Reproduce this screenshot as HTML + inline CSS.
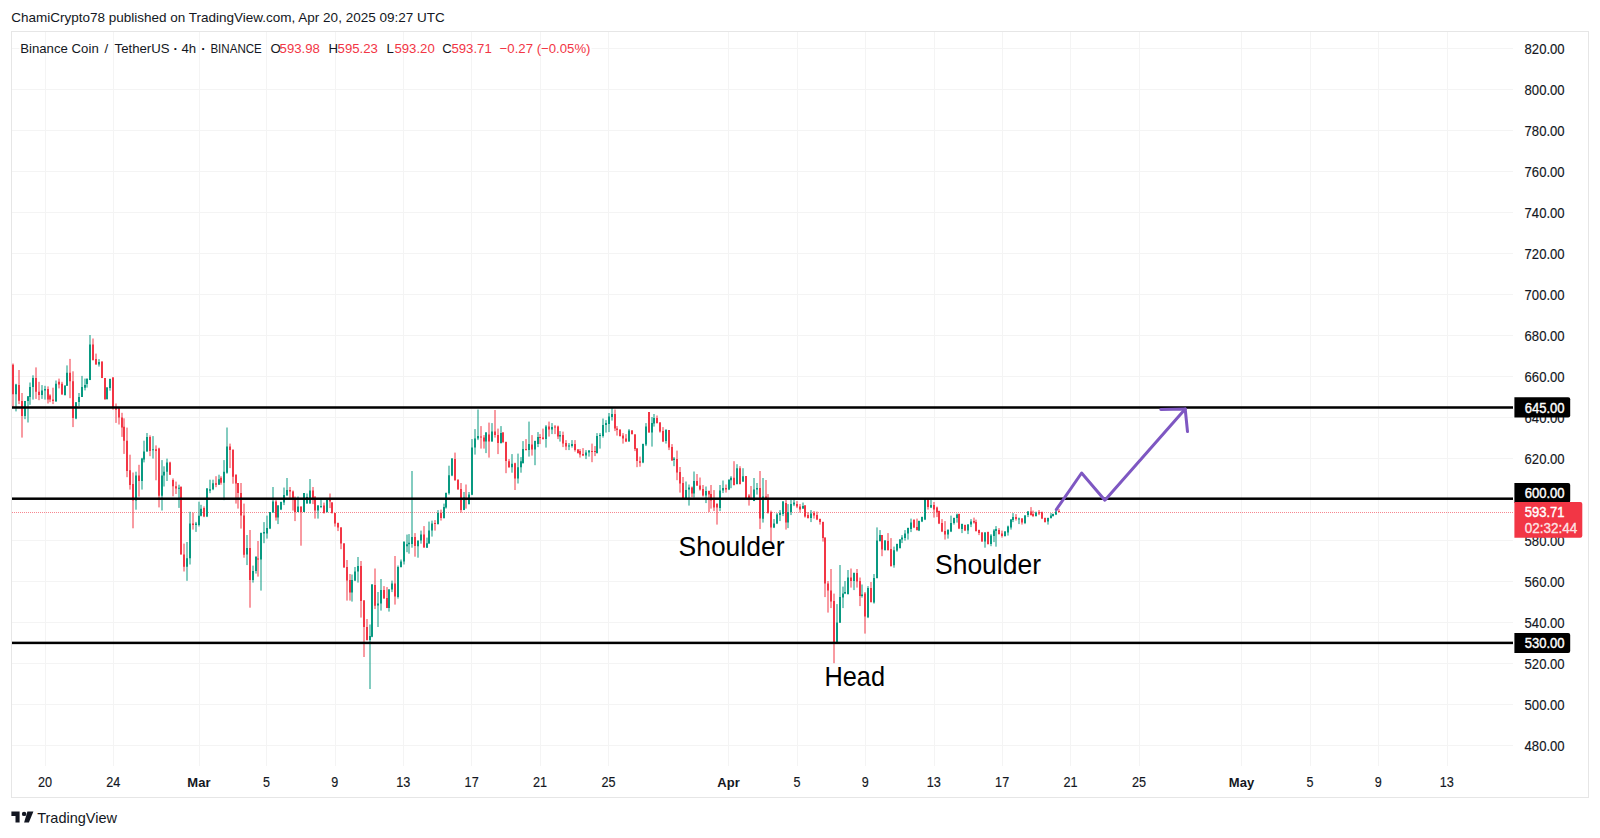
<!DOCTYPE html><html><head><meta charset="utf-8"><style>html,body{margin:0;padding:0;background:#fff;}body{width:1600px;height:838px;overflow:hidden;}svg{display:block;font-family:"Liberation Sans",sans-serif;}</style></head><body>
<svg width="1600" height="838" viewBox="0 0 1600 838">
<rect x="0" y="0" width="1600" height="838" fill="#ffffff"/>
<text x="11.2" y="21.8" font-size="13.5" fill="#131722">ChamiCrypto78 published on TradingView.com, Apr 20, 2025 09:27 UTC</text>
<rect x="11.5" y="31.5" width="1577" height="766" fill="#ffffff" stroke="#e6e6e6" stroke-width="1"/>
<path d="M12 745.5H1513 M12 704.5H1513 M12 663.5H1513 M12 622.5H1513 M12 581.5H1513 M12 540.5H1513 M12 499.5H1513 M12 458.5H1513 M12 417.5H1513 M12 376.5H1513 M12 335.5H1513 M12 294.5H1513 M12 253.5H1513 M12 212.5H1513 M12 171.5H1513 M12 130.5H1513 M12 89.5H1513 M12 48.5H1513" stroke="#f4f4f4" stroke-width="1" fill="none"/>
<rect x="19.5" y="45" width="572" height="7" fill="#ffffff"/>
<path d="M45.5 32V766 M113.5 32V766 M199.5 32V766 M266.5 32V766 M335.5 32V766 M403.5 32V766 M471.5 32V766 M540.5 32V766 M608.5 32V766 M728.5 32V766 M797.5 32V766 M865.5 32V766 M934.5 32V766 M1002.5 32V766 M1070.5 32V766 M1139.5 32V766 M1241.5 32V766 M1310.5 32V766 M1378.5 32V766 M1447.5 32V766" stroke="#f4f4f4" stroke-width="1" fill="none"/>

<g font-size="13.2" fill="#131722"><text x="20.2" y="53">Binance</text><text x="71.6" y="53">Coin</text><text x="104.6" y="53">/</text><text x="114.6" y="53">TetherUS</text><text x="173.6" y="53" font-weight="bold">·</text><text x="181.4" y="53">4h</text><text x="201.2" y="53" font-weight="bold">·</text><text x="210.4" y="53" textLength="51.4" lengthAdjust="spacingAndGlyphs">BINANCE</text><text x="270.4" y="53">O</text><text x="279.6" y="53" fill="#F23645">593.98</text><text x="328.4" y="53">H</text><text x="337.6" y="53" fill="#F23645">595.23</text><text x="386.4" y="53">L</text><text x="394.4" y="53" fill="#F23645">593.20</text><text x="442.2" y="53">C</text><text x="451.4" y="53" fill="#F23645">593.71</text><text x="499.6" y="53" fill="#F23645">−0.27 (−0.05%)</text></g>
<path d="M12 512.5H1513" stroke="#F23645" stroke-opacity="0.6" stroke-width="1" stroke-dasharray="1 1" fill="none"/>
<path d="M16 383.8V411.4M25 400.9V419.2M28 396.3V422.5M30 382.5V404.8M33 375.3V399.6M42 385.1V398.9M45 385.8V399.6M56 380.5V401.5M65 385.1V395.6M67 365.4V385.8M76 402.2V419.2M79 393.0V406.1M82 375.9V396.9M85 378.6V390.4M87 378.1V387.6M90 335.0V380.1M99 359.1V366.6M107 387.1V399.7M110 378.6V390.7M136 471.7V509.7M142 457.8V489.6M144 440.7V462.4M147 433.0V451.6M153 436.1V458.6M162 460.1V510.5M164 466.3V486.5M167 458.6V481.0M179 484.7V507.9M187 542.0V580.8M190 511.8V564.5M196 521.9V531.9M199 501.7V526.5M201 504.8V516.4M207 488.0V517.1M210 479.7V493.2M213 479.7V490.2M219 474.7V484.7M224 460.1V500.2M227 427.5V473.7M247 535.0V565.1M253 565.6V582.6M256 556.0V573.6M261 532.5V590.6M264 522.1V543.2M267 515.6V538.6M270 512.1V529.1M273 487.0V512.6M278 505.1V524.1M281 501.6V510.1M284 487.5V505.1M287 478.0V495.5M298 496.5V512.1M304 493.0V512.1M307 493.5V503.6M310 479.0V503.6M318 505.1V518.6M321 499.0V508.1M327 499.5V512.6M352 574.5V601.6M355 567.0V581.1M358 557.0V582.6M370 624.5V689.0M372 584.1V637.2M378 592.0V627.0M381 579.0V610.6M389 589.1V611.6M392 580.6V592.1M398 565.5V598.6M401 559.5V567.5M404 541.0V564.5M407 534.6V552.2M409 534.1V553.7M412 471.0V547.7M418 540.2V557.7M421 530.6V543.7M427 537.6V547.7M429 521.6V543.7M432 520.6V536.6M438 510.1V524.6M444 503.6V518.6M446 492.5V508.6M449 465.7V494.7M452 458.1V476.2M464 492.0V510.1M469 492.0V504.6M472 439.1V495.2M475 429.1V454.6M478 409.5V440.1M486 432.1V453.1M492 423.1V441.6M501 426.1V443.6M512 454.1V472.7M518 453.6V483.5M521 457.1V472.7M523 441.1V463.7M529 421.6V456.6M535 440.6V465.2M538 432.1V447.1M546 425.1V447.6M552 423.1V434.1M560 431.1V441.6M569 443.1V450.1M572 440.1V447.6M586 450.1V459.1M589 450.1V456.6M597 433.1V453.6M600 433.1V448.6M603 418.5V437.6M606 420.1V432.6M609 413.0V432.1M612 407.5V420.6M629 429.1V441.6M643 443.6V463.2M646 423.1V446.1M652 417.0V446.6M654 414.0V426.6M666 429.1V443.6M674 457.1V466.2M686 481.5V499.1M689 484.5V505.6M694 471.5V497.6M706 486.5V503.1M720 485.0V511.1M723 480.5V493.1M729 479.0V490.1M731 476.2V488.2M737 464.2V484.5M743 468.2V482.0M754 478.0V501.1M757 483.0V494.6M763 478.0V522.6M774 519.1V528.1M777 513.1V524.1M780 510.1V521.1M783 501.1V516.1M788 504.1V528.1M791 499.6V515.1M794 499.1V506.1M803 502.5V509.0M811 510.1V522.1M837 604.1V643.7M840 565.0V622.6M843 586.6V608.1M845 581.0V594.1M848 570.0V594.6M854 572.5V590.1M862 584.5V597.6M868 586.1V618.1M874 574.0V603.6M877 527.4V578.5M880 530.1V541.6M885 540.1V550.7M894 546.6V567.7M897 543.6V551.7M900 539.1V548.6M902 535.1V543.1M905 530.1V540.6M908 527.6V539.6M911 518.6V532.1M919 520.6V531.1M922 516.6V522.1M925 498.0V520.1M931 500.0V508.1M948 529.1V538.6M951 515.6V532.1M954 517.6V524.6M957 513.6V522.6M962 523.6V533.1M968 524.1V534.1M971 519.1V527.1M985 532.1V547.7M991 534.1V546.2M994 529.1V542.1M996 526.1V546.7M1005 531.1V536.6M1008 525.6V535.6M1011 519.1V529.6M1013 513.1V522.1M1019 517.6V524.1M1025 515.1V524.1M1028 511.1V517.1M1036 511.6V516.6M1048 517.6V524.6M1051 513.1V518.6M1053 513.6V516.6M1056 510.1V515.1" stroke="#089981" stroke-width="1" fill="none"/>
<path d="M13 363.5V407.4M19 370.0V404.1M22 393.0V437.6M36 367.4V398.9M39 381.8V400.2M48 386.4V403.5M50 394.3V402.2M53 387.7V404.1M59 378.6V388.4M62 381.8V395.0M70 358.9V398.2M73 371.3V427.1M93 338.5V360.6M96 353.6V364.6M102 361.6V378.1M105 378.1V399.7M113 377.1V409.7M116 403.5V422.9M119 407.4V424.5M122 412.8V436.9M124 418.3V453.9M127 427.6V477.2M130 454.7V489.6M133 472.5V528.3M139 464.8V496.6M150 435.3V456.2M156 445.4V480.3M159 447.7V507.4M170 461.7V474.8M173 478.4V496.3M176 481.6V494.0M181 486.2V554.4M184 543.6V571.5M193 512.6V529.6M204 506.4V517.2M216 476.2V487.2M221 476.2V484.7M230 443.6V468.1M233 449.1V483.7M236 474.0V503.6M238 483.0V508.6M241 483.0V528.6M244 503.6V557.7M250 530.0V607.7M258 541.0V576.6M276 500.1V520.6M290 487.0V499.0M293 490.5V510.6M295 496.5V521.1M301 506.6V545.7M313 487.0V504.1M315 496.0V518.6M324 502.6V513.6M330 493.5V508.1M332 502.1V513.6M335 513.1V526.6M338 522.6V531.1M341 527.1V549.2M344 543.0V567.6M347 560.0V600.6M350 574.0V600.6M361 561.0V617.6M364 600.0V657.0M367 619.0V640.5M375 568.5V609.1M384 586.1V598.6M387 587.1V608.1M395 556.0V604.6M415 533.1V556.7M424 526.1V547.7M435 520.1V530.6M441 509.6V520.6M455 452.6V480.7M458 479.0V489.5M461 483.0V512.6M466 484.5V508.6M481 426.1V448.6M484 435.1V448.6M489 422.6V457.6M495 410.0V437.6M498 428.6V454.1M503 432.1V443.1M506 441.6V473.2M509 459.1V467.7M515 462.7V490.0M526 439.1V450.6M532 435.1V455.6M540 434.1V444.1M543 428.6V439.6M549 421.6V436.6M555 425.1V434.1M558 425.6V439.1M563 431.6V447.1M566 440.1V450.1M575 440.1V451.6M578 449.1V453.6M580 449.1V457.6M583 448.1V456.1M592 443.6V462.2M595 446.1V456.1M615 409.5V431.1M617 426.1V435.6M620 429.6V436.6M623 433.1V443.6M626 434.1V442.1M632 430.1V434.6M635 434.1V451.1M637 448.1V467.2M640 456.6V466.7M649 412.0V432.6M657 415.5V423.6M660 422.1V432.6M663 427.1V442.1M669 430.1V450.1M672 444.1V460.7M677 450.6V480.2M680 467.0V492.6M683 477.0V499.6M692 486.5V497.1M697 474.0V486.0M700 477.5V490.6M703 485.0V496.6M709 490.6V512.1M711 485.0V508.6M714 490.1V511.1M717 503.1V524.6M726 484.5V492.6M734 461.2V485.5M740 466.2V484.5M746 476.0V498.6M749 494.1V505.6M751 486.0V499.6M760 471.0V529.1M766 480.0V499.6M768 494.1V513.6M771 510.6V543.2M786 500.1V529.6M797 501.1V508.1M800 504.0V512.6M805 505.0V517.6M808 512.1V518.6M814 511.1V518.6M817 511.6V520.1M820 518.6V524.6M823 521.6V541.6M825 537.6V597.1M828 581.0V612.6M831 569.0V608.1M834 593.6V663.2M851 568.5V587.6M857 569.0V587.6M860 577.5V606.1M865 592.0V633.6M871 582.0V602.6M882 535.1V556.2M888 533.1V550.7M891 538.1V566.7M914 519.1V528.1M917 518.6V530.6M928 499.0V509.6M934 502.0V517.6M937 506.6V517.1M939 510.6V524.1M942 519.1V532.1M945 521.1V539.6M959 513.6V529.1M965 524.6V531.1M974 517.6V523.6M976 519.6V531.6M979 529.6V535.1M982 532.1V541.6M988 531.6V544.6M999 528.1V534.6M1002 530.6V537.6M1016 514.1V520.6M1022 518.1V524.6M1031 507.1V515.6M1033 510.6V517.1M1039 510.1V515.1M1042 511.6V519.1M1045 517.6V522.6M1059 509.1V512.6" stroke="#F23645" stroke-width="1" fill="none"/>
<path d="M15 384.5h2v9.8h-2zM24 400.9h2v15.1h-2zM27 396.3h2v4.6h-2zM29 387.1h2v9.8h-2zM32 377.9h2v9.2h-2zM41 390.4h2v4.6h-2zM44 389.1h2v1.3h-2zM55 383.8h2v17.7h-2zM64 385.8h2v9.2h-2zM66 372.7h2v13.1h-2zM75 402.2h2v16.4h-2zM78 396.9h2v5.2h-2zM81 387.1h2v9.8h-2zM84 385.1h2v2.6h-2zM86 379.1h2v5.0h-2zM89 344.5h2v35.6h-2zM98 362.1h2v2.5h-2zM106 387.6h2v11.5h-2zM109 379.1h2v9.0h-2zM135 475.6h2v24.8h-2zM141 458.6h2v22.5h-2zM143 451.6h2v7.8h-2zM146 436.9h2v14.7h-2zM152 449.3h2v1.0h-2zM161 475.6h2v20.2h-2zM163 471.7h2v3.9h-2zM166 462.4h2v9.3h-2zM178 487.8h2v1.0h-2zM186 558.3h2v8.5h-2zM189 523.4h2v34.9h-2zM195 523.4h2v1.6h-2zM198 515.7h2v9.3h-2zM200 508.7h2v7.0h-2zM206 488.5h2v28.1h-2zM209 489.2h2v1.5h-2zM212 483.2h2v6.0h-2zM218 479.2h2v5.5h-2zM223 471.7h2v11.0h-2zM226 446.6h2v26.1h-2zM246 548.0h2v6.5h-2zM252 571.1h2v9.0h-2zM255 557.0h2v14.0h-2zM260 533.0h2v26.6h-2zM263 532.1h2v1.5h-2zM266 528.1h2v5.5h-2zM269 512.1h2v16.5h-2zM272 501.6h2v11.0h-2zM277 505.6h2v12.0h-2zM280 502.1h2v7.5h-2zM283 495.0h2v7.5h-2zM286 490.0h2v5.5h-2zM297 506.6h2v5.5h-2zM303 493.0h2v19.0h-2zM306 497.0h2v6.5h-2zM309 490.5h2v13.0h-2zM317 505.6h2v5.0h-2zM320 506.1h2v1.0h-2zM326 500.1h2v12.0h-2zM351 580.1h2v12.5h-2zM354 571.5h2v9.0h-2zM357 566.0h2v5.5h-2zM369 636.0h2v4.0h-2zM371 584.6h2v52.1h-2zM377 603.6h2v2.0h-2zM380 590.1h2v13.5h-2zM388 589.6h2v18.5h-2zM391 583.6h2v6.0h-2zM397 567.0h2v30.1h-2zM400 561.5h2v5.5h-2zM403 542.0h2v19.5h-2zM406 544.2h2v2.0h-2zM408 542.7h2v1.5h-2zM411 537.0h2v7.0h-2zM417 540.7h2v5.5h-2zM420 534.6h2v6.0h-2zM426 543.2h2v4.5h-2zM428 530.6h2v13.0h-2zM431 523.6h2v7.0h-2zM437 513.1h2v11.0h-2zM443 507.1h2v11.0h-2zM445 493.0h2v14.5h-2zM448 475.2h2v18.0h-2zM451 458.6h2v17.0h-2zM463 497.5h2v12.5h-2zM468 494.5h2v9.5h-2zM471 447.6h2v47.1h-2zM474 438.6h2v9.0h-2zM477 436.1h2v2.5h-2zM485 432.6h2v9.0h-2zM491 431.6h2v10.0h-2zM500 433.1h2v10.0h-2zM511 463.7h2v3.5h-2zM517 467.2h2v11.3h-2zM520 461.2h2v6.0h-2zM522 449.1h2v14.0h-2zM528 444.1h2v6.0h-2zM534 441.1h2v8.5h-2zM537 437.1h2v7.0h-2zM545 426.6h2v12.5h-2zM551 427.1h2v2.5h-2zM559 435.1h2v1.5h-2zM568 445.6h2v1.0h-2zM571 444.1h2v2.0h-2zM585 452.6h2v3.0h-2zM588 450.6h2v2.0h-2zM596 436.1h2v17.0h-2zM599 435.1h2v1.0h-2zM602 425.1h2v11.0h-2zM605 423.1h2v2.0h-2zM608 416.5h2v7.5h-2zM611 414.0h2v3.0h-2zM628 430.6h2v11.0h-2zM642 444.1h2v18.5h-2zM645 426.6h2v18.0h-2zM651 423.1h2v9.5h-2zM653 418.0h2v5.5h-2zM665 430.1h2v11.0h-2zM673 458.6h2v1.5h-2zM685 490.1h2v9.0h-2zM688 487.5h2v2.0h-2zM693 481.0h2v12.5h-2zM705 491.1h2v4.5h-2zM719 490.6h2v17.5h-2zM722 488.0h2v2.5h-2zM728 480.0h2v9.5h-2zM730 477.7h2v2.5h-2zM736 468.2h2v15.8h-2zM742 476.2h2v5.3h-2zM753 489.5h2v11.5h-2zM756 488.0h2v1.5h-2zM762 496.6h2v22.1h-2zM773 523.6h2v4.0h-2zM776 514.6h2v9.0h-2zM779 513.1h2v2.0h-2zM782 501.6h2v12.5h-2zM787 512.1h2v10.5h-2zM790 504.1h2v8.0h-2zM793 502.6h2v2.0h-2zM802 506.0h2v2.5h-2zM810 513.6h2v4.5h-2zM836 622.6h2v20.6h-2zM839 597.1h2v25.6h-2zM842 593.6h2v4.0h-2zM844 592.1h2v1.5h-2zM847 577.5h2v16.5h-2zM853 573.0h2v8.0h-2zM861 594.6h2v1.5h-2zM867 588.1h2v29.1h-2zM873 578.0h2v24.6h-2zM876 540.6h2v37.4h-2zM879 535.1h2v6.0h-2zM884 540.6h2v9.5h-2zM893 550.2h2v15.0h-2zM896 544.1h2v6.5h-2zM899 539.6h2v8.5h-2zM901 537.6h2v2.0h-2zM904 533.6h2v4.5h-2zM907 528.1h2v5.5h-2zM910 522.6h2v6.5h-2zM918 521.1h2v9.5h-2zM921 517.1h2v4.5h-2zM924 498.5h2v21.1h-2zM930 505.1h2v2.5h-2zM947 530.1h2v4.5h-2zM950 523.1h2v8.5h-2zM953 518.1h2v5.0h-2zM956 514.6h2v3.5h-2zM961 524.1h2v5.0h-2zM967 524.6h2v6.0h-2zM970 521.6h2v3.0h-2zM984 532.6h2v9.0h-2zM990 535.6h2v8.5h-2zM993 530.6h2v5.5h-2zM995 529.1h2v2.0h-2zM1004 531.6h2v4.5h-2zM1007 526.6h2v6.0h-2zM1010 519.6h2v8.0h-2zM1012 517.1h2v3.0h-2zM1018 518.6h2v1.0h-2zM1024 515.6h2v7.5h-2zM1027 511.6h2v3.5h-2zM1035 512.6h2v3.5h-2zM1047 518.1h2v3.5h-2zM1050 515.6h2v2.5h-2zM1052 514.1h2v2.0h-2zM1055 511.6h2v3.0h-2z" fill="#089981"/>
<path d="M12 364.8h2v29.5h-2zM18 385.1h2v15.7h-2zM21 400.9h2v15.1h-2zM35 377.9h2v13.8h-2zM38 391.7h2v3.3h-2zM47 389.1h2v10.5h-2zM49 395.6h2v3.9h-2zM52 399.6h2v1.3h-2zM58 381.8h2v2.6h-2zM61 383.8h2v10.5h-2zM69 372.7h2v8.5h-2zM72 381.2h2v36.7h-2zM92 344.5h2v15.5h-2zM95 359.1h2v5.5h-2zM101 361.6h2v16.5h-2zM104 378.1h2v21.1h-2zM112 377.6h2v30.6h-2zM115 408.2h2v1.6h-2zM118 408.2h2v9.3h-2zM121 417.5h2v10.1h-2zM123 426.8h2v14.0h-2zM126 440.7h2v30.2h-2zM129 470.2h2v14.7h-2zM132 484.1h2v16.3h-2zM138 475.6h2v5.4h-2zM149 436.9h2v14.0h-2zM155 449.3h2v1.6h-2zM158 448.5h2v47.3h-2zM169 462.4h2v12.4h-2zM172 480.0h2v6.2h-2zM175 486.2h2v2.3h-2zM180 487.0h2v67.4h-2zM183 554.4h2v12.4h-2zM192 523.4h2v1.6h-2zM203 507.9h2v8.5h-2zM215 483.2h2v1.5h-2zM220 477.7h2v5.0h-2zM229 446.6h2v3.5h-2zM232 450.1h2v26.6h-2zM235 475.0h2v8.5h-2zM237 483.0h2v10.0h-2zM240 493.0h2v22.6h-2zM243 515.6h2v39.1h-2zM249 548.0h2v32.1h-2zM257 558.5h2v1.0h-2zM275 501.6h2v16.0h-2zM289 490.0h2v1.5h-2zM292 491.5h2v8.0h-2zM294 499.0h2v13.0h-2zM300 506.6h2v5.5h-2zM312 490.5h2v8.5h-2zM314 497.5h2v13.0h-2zM323 505.6h2v7.5h-2zM329 500.1h2v1.5h-2zM331 502.6h2v10.5h-2zM334 513.1h2v10.5h-2zM337 523.1h2v4.5h-2zM340 527.6h2v16.0h-2zM343 543.5h2v24.1h-2zM346 567.0h2v13.5h-2zM349 580.1h2v12.5h-2zM360 566.0h2v35.1h-2zM363 600.6h2v26.4h-2zM366 627.0h2v13.0h-2zM374 585.1h2v20.6h-2zM383 590.1h2v8.5h-2zM386 598.1h2v10.0h-2zM394 583.6h2v13.0h-2zM414 537.1h2v9.0h-2zM423 534.6h2v13.0h-2zM434 523.1h2v1.0h-2zM440 513.1h2v5.0h-2zM454 459.1h2v21.1h-2zM457 480.0h2v9.5h-2zM460 489.0h2v21.0h-2zM465 498.0h2v1.5h-2zM480 436.6h2v1.0h-2zM483 437.6h2v4.0h-2zM488 434.6h2v7.0h-2zM494 431.6h2v3.5h-2zM497 435.1h2v8.0h-2zM502 432.6h2v9.5h-2zM505 442.1h2v19.0h-2zM508 461.2h2v6.0h-2zM514 463.2h2v15.3h-2zM525 449.1h2v1.0h-2zM531 444.6h2v5.0h-2zM539 437.1h2v1.0h-2zM542 437.6h2v1.5h-2zM548 426.6h2v3.0h-2zM554 426.6h2v1.0h-2zM557 426.6h2v10.0h-2zM562 435.1h2v8.5h-2zM565 443.1h2v3.5h-2zM574 444.1h2v6.0h-2zM577 449.6h2v3.5h-2zM579 451.1h2v3.5h-2zM582 454.1h2v1.5h-2zM591 451.1h2v1.0h-2zM594 451.1h2v1.0h-2zM614 414.0h2v14.5h-2zM616 428.6h2v1.5h-2zM619 429.6h2v6.5h-2zM622 435.6h2v3.0h-2zM625 438.6h2v3.0h-2zM631 430.6h2v3.5h-2zM634 434.6h2v14.5h-2zM636 448.6h2v12.5h-2zM639 461.2h2v1.5h-2zM648 412.0h2v20.6h-2zM656 418.0h2v5.0h-2zM659 422.6h2v9.0h-2zM662 431.1h2v10.5h-2zM668 430.1h2v17.5h-2zM671 447.1h2v13.5h-2zM676 459.1h2v13.5h-2zM679 472.0h2v11.5h-2zM682 483.0h2v16.0h-2zM691 487.5h2v6.0h-2zM696 481.0h2v4.5h-2zM699 485.5h2v4.0h-2zM702 489.0h2v6.5h-2zM708 491.1h2v3.5h-2zM710 494.1h2v6.5h-2zM713 500.1h2v7.5h-2zM716 504.1h2v3.5h-2zM725 488.0h2v1.5h-2zM733 477.7h2v7.3h-2zM739 468.2h2v15.8h-2zM745 476.0h2v22.1h-2zM748 495.6h2v3.5h-2zM750 498.1h2v1.0h-2zM759 488.0h2v30.6h-2zM765 496.6h2v3.0h-2zM767 499.1h2v14.0h-2zM770 512.1h2v15.5h-2zM785 503.1h2v19.5h-2zM796 504.1h2v2.5h-2zM799 506.5h2v3.0h-2zM804 505.5h2v11.0h-2zM807 515.1h2v3.0h-2zM813 513.1h2v2.5h-2zM816 515.1h2v4.5h-2zM819 519.1h2v3.0h-2zM822 522.1h2v16.0h-2zM824 537.6h2v45.9h-2zM827 583.5h2v7.0h-2zM830 590.6h2v11.0h-2zM833 601.0h2v41.6h-2zM850 577.5h2v3.5h-2zM856 573.0h2v8.5h-2zM859 581.0h2v15.0h-2zM864 593.6h2v22.9h-2zM870 588.1h2v14.0h-2zM881 535.1h2v14.5h-2zM887 541.1h2v9.0h-2zM890 549.1h2v17.0h-2zM913 520.1h2v7.5h-2zM916 527.1h2v3.0h-2zM927 499.5h2v7.5h-2zM933 505.1h2v4.5h-2zM936 507.6h2v5.0h-2zM938 511.1h2v12.5h-2zM941 523.1h2v8.5h-2zM944 531.1h2v3.5h-2zM958 514.1h2v14.5h-2zM964 525.1h2v5.5h-2zM973 521.1h2v1.5h-2zM975 522.1h2v9.0h-2zM978 530.1h2v3.0h-2zM981 532.6h2v9.0h-2zM987 532.1h2v12.0h-2zM998 530.1h2v4.0h-2zM1001 533.6h2v2.5h-2zM1015 517.1h2v2.0h-2zM1021 518.6h2v4.0h-2zM1030 511.6h2v3.5h-2zM1032 514.1h2v2.0h-2zM1038 512.1h2v1.5h-2zM1041 512.1h2v6.5h-2zM1044 518.1h2v4.0h-2zM1058 511.1h2v1.0h-2z" fill="#F23645"/>
<rect x="12" y="406.25" width="1501" height="2.5" fill="#000000"/>
<rect x="12" y="497.45" width="1501" height="2.5" fill="#000000"/>
<rect x="12" y="641.65" width="1501" height="2.5" fill="#000000"/>
<g font-size="28" fill="#000000"><text x="678.5" y="555.7" textLength="106" lengthAdjust="spacingAndGlyphs">Shoulder</text><text x="935" y="573.7" textLength="106" lengthAdjust="spacingAndGlyphs">Shoulder</text><text x="824.5" y="685.8" textLength="60.5" lengthAdjust="spacingAndGlyphs">Head</text></g>
<g stroke="#7E57C2" stroke-width="3" fill="none" stroke-linecap="round" stroke-linejoin="round"><path d="M1056.3 509.6L1081.6 473L1104.9 500.2L1185.2 409"/><path d="M1160.8 409.4L1185.2 409L1187.5 431.6"/></g>
<g font-size="14.4" fill="#131722" stroke="#131722" stroke-width="0.15"><text x="1524.6" y="750.5" textLength="40" lengthAdjust="spacingAndGlyphs">480.00</text><text x="1524.6" y="709.5" textLength="40" lengthAdjust="spacingAndGlyphs">500.00</text><text x="1524.6" y="668.5" textLength="40" lengthAdjust="spacingAndGlyphs">520.00</text><text x="1524.6" y="627.5" textLength="40" lengthAdjust="spacingAndGlyphs">540.00</text><text x="1524.6" y="586.5" textLength="40" lengthAdjust="spacingAndGlyphs">560.00</text><text x="1524.6" y="545.6" textLength="40" lengthAdjust="spacingAndGlyphs">580.00</text><text x="1524.6" y="504.6" textLength="40" lengthAdjust="spacingAndGlyphs">600.00</text><text x="1524.6" y="463.6" textLength="40" lengthAdjust="spacingAndGlyphs">620.00</text><text x="1524.6" y="422.6" textLength="40" lengthAdjust="spacingAndGlyphs">640.00</text><text x="1524.6" y="381.6" textLength="40" lengthAdjust="spacingAndGlyphs">660.00</text><text x="1524.6" y="340.6" textLength="40" lengthAdjust="spacingAndGlyphs">680.00</text><text x="1524.6" y="299.6" textLength="40" lengthAdjust="spacingAndGlyphs">700.00</text><text x="1524.6" y="258.6" textLength="40" lengthAdjust="spacingAndGlyphs">720.00</text><text x="1524.6" y="217.7" textLength="40" lengthAdjust="spacingAndGlyphs">740.00</text><text x="1524.6" y="176.7" textLength="40" lengthAdjust="spacingAndGlyphs">760.00</text><text x="1524.6" y="135.7" textLength="40" lengthAdjust="spacingAndGlyphs">780.00</text><text x="1524.6" y="94.7" textLength="40" lengthAdjust="spacingAndGlyphs">800.00</text><text x="1524.6" y="53.7" textLength="40" lengthAdjust="spacingAndGlyphs">820.00</text></g>
<path d="M1514.4 397.3H1568.2Q1570.2 397.3 1570.2 399.3V415.40000000000003Q1570.2 417.40000000000003 1568.2 417.40000000000003H1514.4Z" fill="#000000"/>
<text x="1524.8" y="412.5" font-size="14.3" textLength="39.8" lengthAdjust="spacingAndGlyphs" fill="#ffffff" stroke="#ffffff" stroke-width="0.4">645.00</text>
<path d="M1514.4 483.1H1568.2Q1570.2 483.1 1570.2 485.1V501.1Q1570.2 503.1 1568.2 503.1H1514.4Z" fill="#000000"/>
<text x="1524.8" y="498.3" font-size="14.3" textLength="39.8" lengthAdjust="spacingAndGlyphs" fill="#ffffff" stroke="#ffffff" stroke-width="0.4">600.00</text>
<path d="M1514.4 632.9H1568.2Q1570.2 632.9 1570.2 634.9V651.0Q1570.2 653.0 1568.2 653.0H1514.4Z" fill="#000000"/>
<text x="1524.8" y="648.0" font-size="14.3" textLength="39.8" lengthAdjust="spacingAndGlyphs" fill="#ffffff" stroke="#ffffff" stroke-width="0.4">530.00</text>
<path d="M1514.4 501.9H1580.3000000000002Q1582.3000000000002 501.9 1582.3000000000002 503.9V535.6999999999999Q1582.3000000000002 537.6999999999999 1580.3000000000002 537.6999999999999H1514.4Z" fill="#F23645"/>
<text x="1524.8" y="517.4" font-size="14.3" textLength="39.8" lengthAdjust="spacingAndGlyphs" fill="#ffffff" stroke="#ffffff" stroke-width="0.4">593.71</text>
<text x="1524.8" y="533.4" font-size="14.3" textLength="52.5" lengthAdjust="spacingAndGlyphs" fill="#ffffff" fill-opacity="0.8" stroke="#ffffff" stroke-opacity="0.8" stroke-width="0.4">02:32:44</text>
<g font-size="14.4" fill="#131722" stroke="#131722" stroke-width="0.15"><text x="38.0" y="786.9" textLength="14.1" lengthAdjust="spacingAndGlyphs">20</text><text x="106.2" y="786.9" textLength="14.1" lengthAdjust="spacingAndGlyphs">24</text><text x="198.9" y="786.9" text-anchor="middle" font-weight="bold" font-size="13" stroke-width="0">Mar</text><text x="262.9" y="786.9" textLength="7.0" lengthAdjust="spacingAndGlyphs">5</text><text x="331.3" y="786.9" textLength="7.0" lengthAdjust="spacingAndGlyphs">9</text><text x="396.2" y="786.9" textLength="14.1" lengthAdjust="spacingAndGlyphs">13</text><text x="464.6" y="786.9" textLength="14.1" lengthAdjust="spacingAndGlyphs">17</text><text x="533.0" y="786.9" textLength="14.1" lengthAdjust="spacingAndGlyphs">21</text><text x="601.4" y="786.9" textLength="14.1" lengthAdjust="spacingAndGlyphs">25</text><text x="728.5" y="786.9" text-anchor="middle" font-weight="bold" font-size="13" stroke-width="0">Apr</text><text x="793.4" y="786.9" textLength="7.0" lengthAdjust="spacingAndGlyphs">5</text><text x="861.8" y="786.9" textLength="7.0" lengthAdjust="spacingAndGlyphs">9</text><text x="926.7" y="786.9" textLength="14.1" lengthAdjust="spacingAndGlyphs">13</text><text x="995.1" y="786.9" textLength="14.1" lengthAdjust="spacingAndGlyphs">17</text><text x="1063.5" y="786.9" textLength="14.1" lengthAdjust="spacingAndGlyphs">21</text><text x="1131.9" y="786.9" textLength="14.1" lengthAdjust="spacingAndGlyphs">25</text><text x="1241.5" y="786.9" text-anchor="middle" font-weight="bold" font-size="13" stroke-width="0">May</text><text x="1306.4" y="786.9" textLength="7.0" lengthAdjust="spacingAndGlyphs">5</text><text x="1374.8" y="786.9" textLength="7.0" lengthAdjust="spacingAndGlyphs">9</text><text x="1439.7" y="786.9" textLength="14.1" lengthAdjust="spacingAndGlyphs">13</text></g>
<g fill="#131722"><path d="M11.4 811.6H19.6V822.5H15.5V816.1H11.4Z"/><circle cx="24.1" cy="813.9" r="2.2"/><path d="M27.4 811.6H33.4L28.9 822.5H24.1Z"/></g>
<text x="37.2" y="822.9" font-size="14.5" fill="#131722">TradingView</text>
</svg></body></html>
